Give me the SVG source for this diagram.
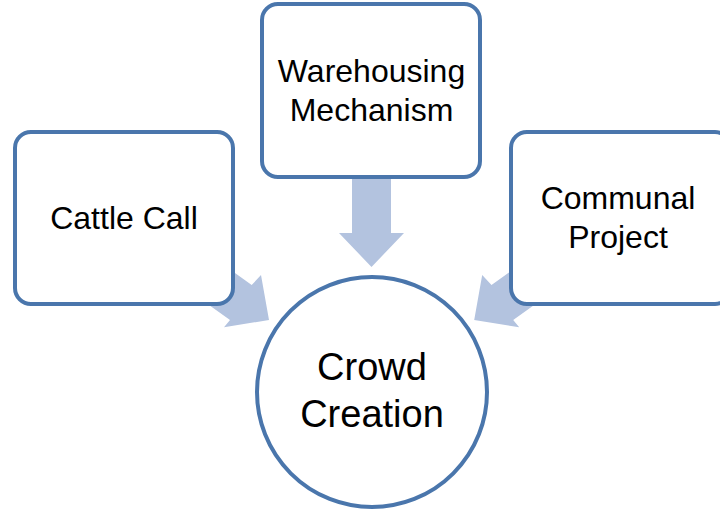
<svg xmlns="http://www.w3.org/2000/svg" width="720" height="510" viewBox="0 0 720 510">
<style>
.box{fill:#ffffff;stroke:#4a76ac;stroke-width:4}
.arr{fill:#b3c3df;stroke:none}
text{font-family:"Liberation Sans",Arial,sans-serif;fill:#000000;text-anchor:middle}
.s{font-size:32px}
.l{font-size:38px}
</style>
<rect width="720" height="510" fill="#ffffff"/>
<g id="connectors">
<polygon class="arr" points="352,170 391,170 391,233 404,233 371.5,267 339,233 352,233"/>
<polygon class="arr" points="203,250 251.7,285 261,275 269,320 224,327.3 230,320 181,285"/>
<polygon class="arr" points="540.2,250 491.5,285 482.2,275 474.2,320 519.2,327.3 513.2,320 562.2,285"/>
</g>
<g id="warehousing">
<rect class="box" x="262" y="4" width="218" height="173" rx="16"/>
<text class="s" x="371.5" y="82">Warehousing</text>
<text class="s" x="371.5" y="121">Mechanism</text>
</g>
<g id="cattle">
<rect class="box" x="15" y="132" width="218" height="172" rx="16"/>
<text class="s" x="124" y="229">Cattle Call</text>
</g>
<g id="communal">
<rect class="box" x="511" y="132" width="220" height="172" rx="16"/>
<text class="s" x="618" y="209">Communal</text>
<text class="s" x="618" y="248">Project</text>
</g>
<g id="crowd">
<circle class="box" cx="372" cy="392" r="115"/>
<text class="l" x="372" y="380">Crowd</text>
<text class="l" x="372" y="427">Creation</text>
</g>
</svg>
